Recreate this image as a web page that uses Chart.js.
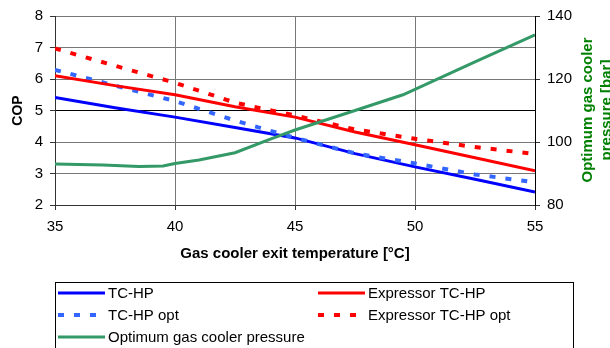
<!DOCTYPE html>
<html>
<head>
<meta charset="utf-8">
<script src="https://cdn.jsdelivr.net/npm/chart.js@4"></script>
<style>
  body { margin: 0; background: #fff; }
  canvas { display: block; }
</style>
</head>
<body>
<canvas id="myChart" width="610" height="348"></canvas>
<script>
// datos
var temperature = [35, 37.5, 40, 42.5, 45, 47.5, 50, 52.5, 55];
var tcHp = [5.41, 5.09, 4.79, 4.46, 4.13, 3.63, 3.21, 2.82, 2.41];
var tcHpOpt = [6.29, 5.79, 5.30, 4.68, 4.13, 3.64, 3.32, 2.97, 2.72];
var expTcHp = [6.10, 5.79, 5.50, 5.12, 4.79, 4.32, 3.91, 3.50, 3.09];
var expTcHpOpt = [6.97, 6.42, 5.88, 5.25, 4.84, 4.40, 4.10, 3.84, 3.62];

var pressureTemps = [35, 37, 38.5, 39.5, 40, 41, 42.5, 44, 45, 47.5, 49.5, 52.5, 55];
var pressure = [93.0, 92.7, 92.2, 92.4, 93.2, 94.3, 96.6, 101.0, 103.8, 110.0, 115.0, 125.4, 134.0];

var xTicks = [35, 40, 45, 50, 55];
var copTicks = [2, 3, 4, 5, 6, 7, 8];
var pressureTicks = [80, 100, 120, 140];

var legendRows = [
  ['TC-HP', 'Expressor TC-HP'],
  ['TC-HP opt', 'Expressor TC-HP opt'],
  ['Optimum gas cooler pressure']
];

function pts(xs, ys) {
  return xs.map(function(x, i) { return { x: x, y: ys[i] }; });
}

var font = 'Liberation Sans, Arial, sans-serif';

// leyenda dibujada a mano (caja abajo)
var legendPlugin = {
  id: 'boxLegend',
  afterDraw: function(chart) {
    var ctx = chart.ctx;
    var byLabel = {};
    chart.data.datasets.forEach(function(ds) { byLabel[ds.label] = ds; });
    ctx.save();
    ctx.strokeStyle = '#000';
    ctx.lineWidth = 1;
    ctx.strokeRect(55.5, 282.5, 518, 80);
    ctx.font = '15px ' + font;
    ctx.textBaseline = 'middle';
    ctx.fillStyle = '#000';
    var rowY = [293, 315, 337];
    var colX = [58, 318];
    legendRows.forEach(function(row, r) {
      row.forEach(function(label, c) {
        var ds = byLabel[label];
        var x0 = colX[c], y = rowY[r];
        ctx.beginPath();
        ctx.strokeStyle = ds.borderColor;
        ctx.lineWidth = ds.borderWidth;
        ctx.setLineDash(ds.borderDash || []);
        ctx.moveTo(x0, y);
        ctx.lineTo(x0 + 47, y);
        ctx.stroke();
        ctx.setLineDash([]);
        ctx.fillText(label, x0 + 50, y + 1);
      });
    });
    // titulo eje derecho (se lee de abajo hacia arriba)
    ctx.fillStyle = '#008000';
    ctx.font = 'bold 15px ' + font;
    ctx.textAlign = 'center';
    ctx.translate(588, 110);
    ctx.rotate(-Math.PI / 2);
    ctx.fillText('Optimum gas cooler', 0, 0);
    ctx.fillText('pressure [bar]', 0, 19);
    ctx.restore();
  }
};

var ctx = document.getElementById('myChart').getContext('2d');
var myChart = new Chart(ctx, {
  type: 'line',
  data: {
    datasets: [
      { label: 'TC-HP', data: pts(temperature, tcHp), borderColor: '#0000ff', borderWidth: 3, yAxisID: 'y', order: 5 },
      { label: 'TC-HP opt', data: pts(temperature, tcHpOpt), borderColor: '#3366ff', borderWidth: 4, borderDash: [6, 10], yAxisID: 'y', order: 4 },
      { label: 'Expressor TC-HP', data: pts(temperature, expTcHp), borderColor: '#ff0000', borderWidth: 3, yAxisID: 'y', order: 3 },
      { label: 'Expressor TC-HP opt', data: pts(temperature, expTcHpOpt), borderColor: '#ff0000', borderWidth: 4, borderDash: [6, 10], yAxisID: 'y', order: 2 },
      { label: 'Optimum gas cooler pressure', data: pts(pressureTemps, pressure), borderColor: '#339966', borderWidth: 3, yAxisID: 'y2', order: 1 }
    ]
  },
  options: {
    responsive: false,
    animation: false,
    events: [],
    layout: { padding: { left: 0, right: 0, top: 15, bottom: 78 } },
    elements: { point: { radius: 0 }, line: { tension: 0, fill: false, borderCapStyle: 'butt' } },
    plugins: { legend: { display: false }, tooltip: { enabled: false } },
    scales: {
      x: {
        type: 'linear',
        min: 35, max: 55,
        afterBuildTicks: function(s) { s.ticks = xTicks.map(function(v) { return { value: v }; }); },
        afterFit: function(s) { s.height = 65; },
        grid: { color: '#777', tickLength: 5, tickColor: '#333' },
        border: { color: '#333' },
        ticks: { color: '#000', font: { family: font, size: 15 }, padding: 8, maxRotation: 0 },
        title: { display: true, text: 'Gas cooler exit temperature [°C]', color: '#000', font: { family: font, size: 15, weight: 'bold' }, padding: { top: 0, bottom: 7 } }
      },
      y: {
        position: 'left',
        min: 2, max: 8,
        afterBuildTicks: function(s) { s.ticks = copTicks.map(function(v) { return { value: v }; }); },
        afterFit: function(s) { s.width = 55; },
        grid: {
          color: function(c) { return c.tick && c.tick.value === 5 ? '#000' : '#777'; },
          tickColor: '#333',
          tickLength: 5
        },
        border: { color: '#333' },
        ticks: { color: '#000', font: { family: font, size: 15 }, padding: 7 },
        title: { display: true, text: 'COP', color: '#000', font: { family: font, size: 14, weight: 'bold' }, padding: { top: 10, bottom: 0 } }
      },
      y2: {
        position: 'right',
        min: 80, max: 140,
        afterBuildTicks: function(s) { s.ticks = pressureTicks.map(function(v) { return { value: v }; }); },
        afterFit: function(s) { s.width = 75; },
        grid: { drawOnChartArea: false, tickLength: 5, color: '#333' },
        border: { color: '#000' },
        ticks: { color: '#000', font: { family: font, size: 15 }, padding: 7 }
      }
    }
  },
  plugins: [legendPlugin]
});
</script>
</body>
</html>
